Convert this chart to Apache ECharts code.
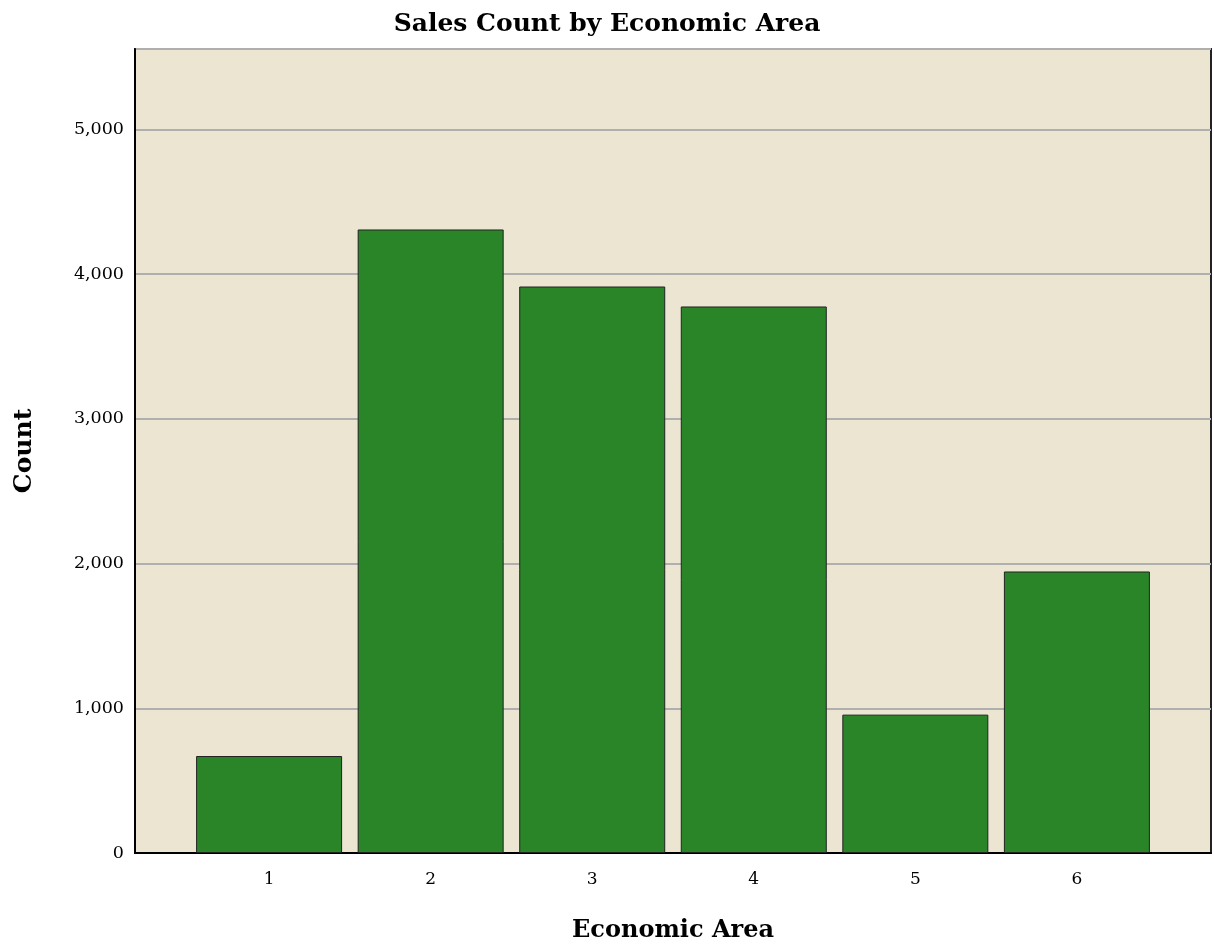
<!DOCTYPE html>
<html>
<head>
<meta charset="utf-8">
<script src="https://cdn.jsdelivr.net/npm/echarts@6/dist/echarts.min.js"></script>
<style>
html,body{margin:0;padding:0;background:#fff;}
#chart{width:1214px;height:952px;}
</style>
</head>
<body>
<div id="chart"></div>
<script>
var categories = [1, 2, 3, 4, 5, 6];
var counts = [670, 4308, 3914, 3776, 956, 1945];
var yTicks = [0, 1000, 2000, 3000, 4000, 5000];

var FONT = 'DejaVu Serif';
var chart = echarts.init(document.getElementById('chart'), null, {renderer: 'canvas'});
var data = categories.map(function (c, i) { return [c, counts[i]]; });

chart.setOption({
  animation: false,
  backgroundColor: '#ffffff',
  title: {
    text: 'Sales Count by Economic Area',
    left: 'center',
    top: 7,
    textStyle: {fontFamily: FONT, fontWeight: 'bold', fontSize: 25, color: '#000'}
  },
  grid: {
    left: 135, right: 3, top: 49, bottom: 99,
    show: true,
    backgroundColor: '#EBE5D1',
    borderColor: '#222',
    borderWidth: 2
  },
  xAxis: {
    type: 'value',
    min: 0.17,
    max: 6.83,
    name: 'Economic Area',
    nameLocation: 'middle',
    nameGap: 66,
    nameTextStyle: {fontFamily: FONT, fontWeight: 'bold', fontSize: 24, color: '#000'},
    axisLine: {show: true, onZero: false, lineStyle: {color: '#000', width: 2}},
    axisTick: {show: false},
    splitLine: {show: false},
    axisLabel: {
      customValues: categories,
      fontFamily: FONT, fontSize: 17, color: '#000', margin: 18,
      formatter: function (v) { return String(v); }
    }
  },
  yAxis: {
    type: 'value',
    min: 0,
    max: 5555,
    interval: 1000,
    name: 'Count',
    nameLocation: 'middle',
    nameGap: 98,
    nameRotate: 90,
    nameTextStyle: {fontFamily: FONT, fontWeight: 'bold', fontSize: 25, color: '#000'},
    axisLine: {show: true, lineStyle: {color: '#000', width: 2}},
    axisTick: {show: false},
    splitLine: {show: true, lineStyle: {color: '#AFAFAF', width: 2}},
    axisLabel: {
      customValues: yTicks,
      fontFamily: FONT, fontSize: 17.5, color: '#000', margin: 11,
      formatter: function (v) { return v.toLocaleString('en-US'); }
    }
  },
  series: [{
    type: 'bar',
    data: data,
    barWidth: 146,
    itemStyle: {color: '#2A8529', borderColor: '#222', borderWidth: 1}
  }]
});
</script>
</body>
</html>
